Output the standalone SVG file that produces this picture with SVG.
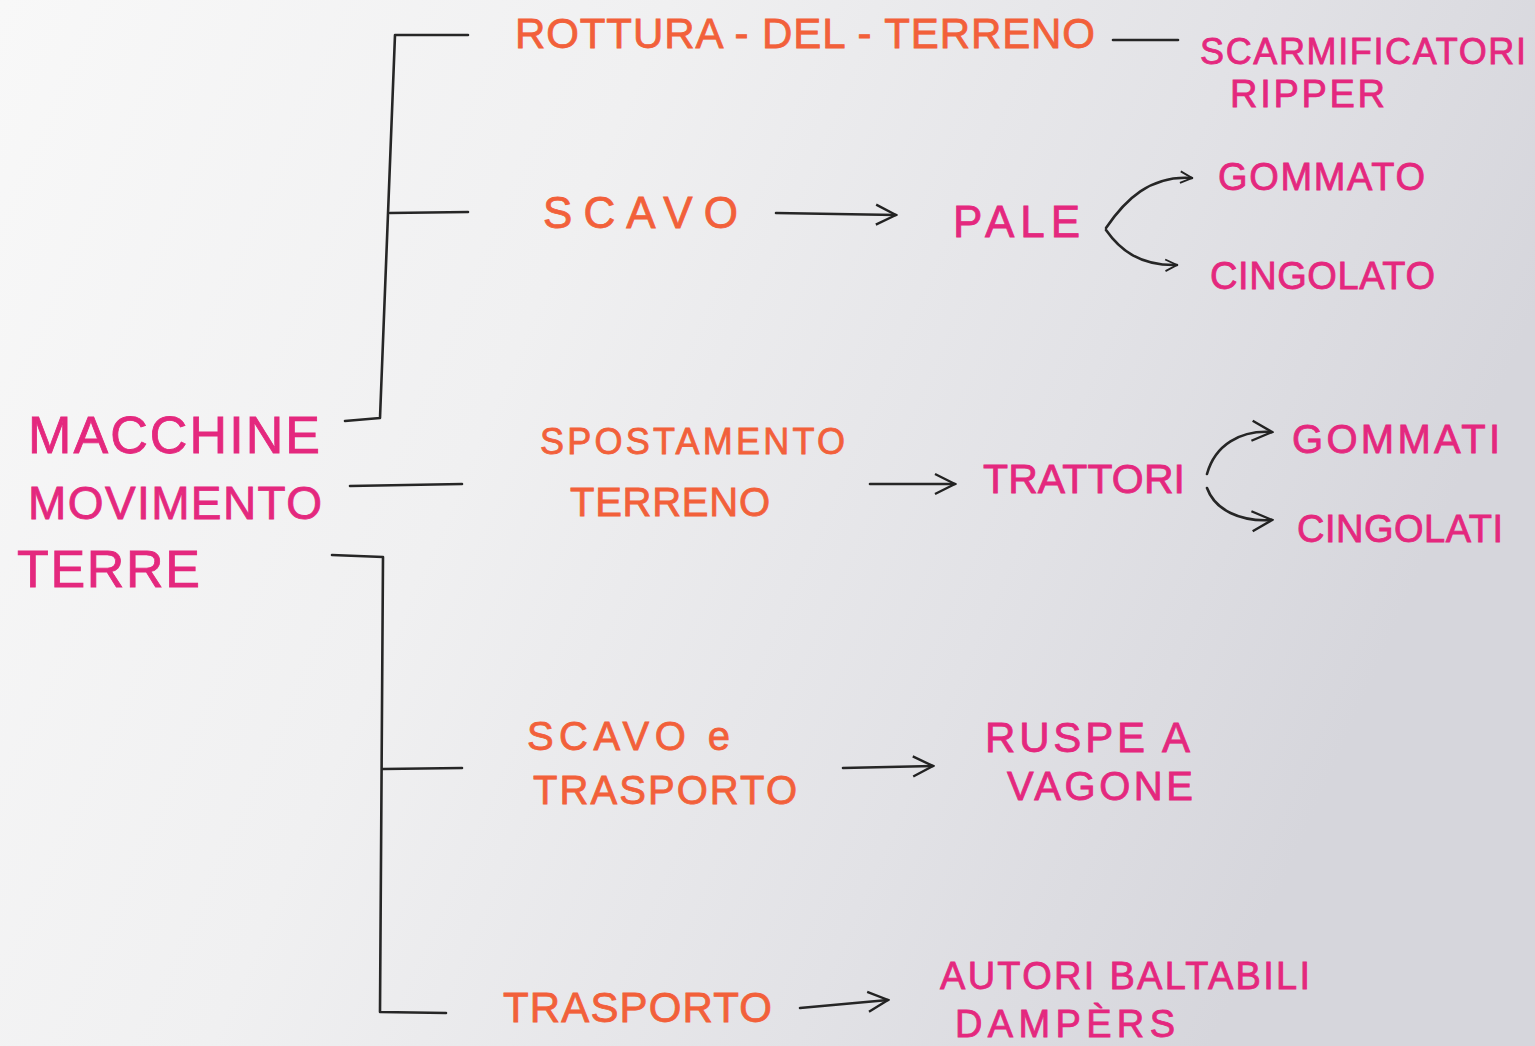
<svg xmlns="http://www.w3.org/2000/svg" width="1535" height="1046" viewBox="0 0 1535 1046">
<defs>
<linearGradient id="paper" x1="0" y1="0" x2="1" y2="0.3">
<stop offset="0" stop-color="#f8f8f8"/>
<stop offset="0.4" stop-color="#f0f0f1"/>
<stop offset="0.75" stop-color="#e2e2e6"/>
<stop offset="1" stop-color="#d6d6dc"/>
</linearGradient>
<marker id="arr" viewBox="0 0 12 12" refX="11" refY="6" markerWidth="14" markerHeight="14" markerUnits="userSpaceOnUse" orient="auto">
<path d="M1,1 L11,6 L1,11" fill="none" stroke="#222" stroke-width="1.6"/>
</marker>
<marker id="arrBig" viewBox="0 0 12 12" refX="11" refY="6" markerWidth="24" markerHeight="24" markerUnits="userSpaceOnUse" orient="auto">
<path d="M1,1 L11,6 L1,11" fill="none" stroke="#222" stroke-width="1.2"/>
</marker>
</defs>
<style>
text{font-family:"Liberation Sans","DejaVu Sans",sans-serif;stroke-width:0.8;}
.o{fill:#f2603a;stroke:#f2603a;}
.m{fill:#e4287e;stroke:#e4287e;}
.ln{fill:none;stroke:#262626;stroke-width:2.6;stroke-linecap:round;stroke-linejoin:round;}
</style>
<rect x="0" y="0" width="1535" height="1046" fill="url(#paper)"/>

<g id="connectors">
<path class="ln" d="M468,35 L395,35 L380,418 L345,421"/>
<path class="ln" d="M390,213 L468,212"/>
<path class="ln" d="M350,486 L462,484"/>
<path class="ln" d="M332,555 L383,557 L380,1012 L446,1013"/>
<path class="ln" d="M383,769 L462,768"/>
<path class="ln" d="M1113,40 L1178,40"/>
<path class="ln" d="M776,213 L896,215" marker-end="url(#arrBig)"/>
<path class="ln" d="M1106,228 C1125,200 1150,175 1192,178" marker-end="url(#arr)"/>
<path class="ln" d="M1106,230 C1120,250 1140,266 1177,265" marker-end="url(#arr)"/>
<path class="ln" d="M870,484 L955,484" marker-end="url(#arrBig)"/>
<path class="ln" d="M1207,474 C1215,445 1240,430 1272,432" marker-end="url(#arrBig)"/>
<path class="ln" d="M1207,488 C1215,510 1240,522 1272,520" marker-end="url(#arrBig)"/>
<path class="ln" d="M843,768 L933,766" marker-end="url(#arrBig)"/>
<path class="ln" d="M800,1008 L888,1000" marker-end="url(#arrBig)"/>
</g>

<g id="root">
<text class="m" x="28" y="453" font-size="52" textLength="292" lengthAdjust="spacing">MACCHINE</text>
<text class="m" x="28" y="519" font-size="46" textLength="294" lengthAdjust="spacing">MOVIMENTO</text>
<text class="m" x="17" y="587" font-size="52" textLength="183" lengthAdjust="spacing">TERRE</text>
</g>

<g id="rottura">
<text class="o" x="515" y="48" font-size="42" textLength="580" lengthAdjust="spacing">ROTTURA - DEL - TERRENO</text>
</g>
<g id="scarmificatori">
<text class="m" x="1200" y="64" font-size="36" textLength="326" lengthAdjust="spacing">SCARMIFICATORI</text>
<text class="m" x="1230" y="107" font-size="38" textLength="155" lengthAdjust="spacing">RIPPER</text>
</g>

<g id="scavo">
<text class="o" x="543" y="228" font-size="44" textLength="195" lengthAdjust="spacing">SCAVO</text>
</g>
<g id="pale">
<text class="m" x="953" y="237" font-size="44" textLength="127" lengthAdjust="spacing">PALE</text>
</g>
<g id="gommato">
<text class="m" x="1218" y="190" font-size="38" textLength="207" lengthAdjust="spacing">GOMMATO</text>
</g>
<g id="cingolato">
<text class="m" x="1210" y="289" font-size="38" textLength="225" lengthAdjust="spacing">CINGOLATO</text>
</g>

<g id="spostamento">
<text class="o" x="540" y="454" font-size="36" textLength="305" lengthAdjust="spacing">SPOSTAMENTO</text>
<text class="o" x="570" y="516" font-size="40" textLength="200" lengthAdjust="spacing">TERRENO</text>
</g>
<g id="trattori">
<text class="m" x="983" y="493" font-size="41" textLength="202" lengthAdjust="spacing">TRATTORI</text>
</g>
<g id="gommati">
<text class="m" x="1292" y="453" font-size="40" textLength="208" lengthAdjust="spacing">GOMMATI</text>
</g>
<g id="cingolati">
<text class="m" x="1297" y="542" font-size="38" textLength="206" lengthAdjust="spacing">CINGOLATI</text>
</g>

<g id="scavo-trasporto">
<text class="o" x="527" y="750" font-size="40" textLength="203" lengthAdjust="spacing">SCAVO e</text>
<text class="o" x="533" y="804" font-size="40" textLength="264" lengthAdjust="spacing">TRASPORTO</text>
</g>
<g id="ruspe">
<text class="m" x="985" y="752" font-size="42" textLength="205" lengthAdjust="spacing">RUSPE A</text>
<text class="m" x="1007" y="800" font-size="40" textLength="186" lengthAdjust="spacing">VAGONE</text>
</g>

<g id="trasporto">
<text class="o" x="503" y="1022" font-size="42" textLength="269" lengthAdjust="spacing">TRASPORTO</text>
</g>
<g id="autoribaltabili">
<text class="m" x="940" y="989" font-size="38" textLength="370" lengthAdjust="spacing">AUTORI BALTABILI</text>
<text class="m" x="955" y="1037" font-size="38" textLength="220" lengthAdjust="spacing">DAMPÈRS</text>
</g>
</svg>
